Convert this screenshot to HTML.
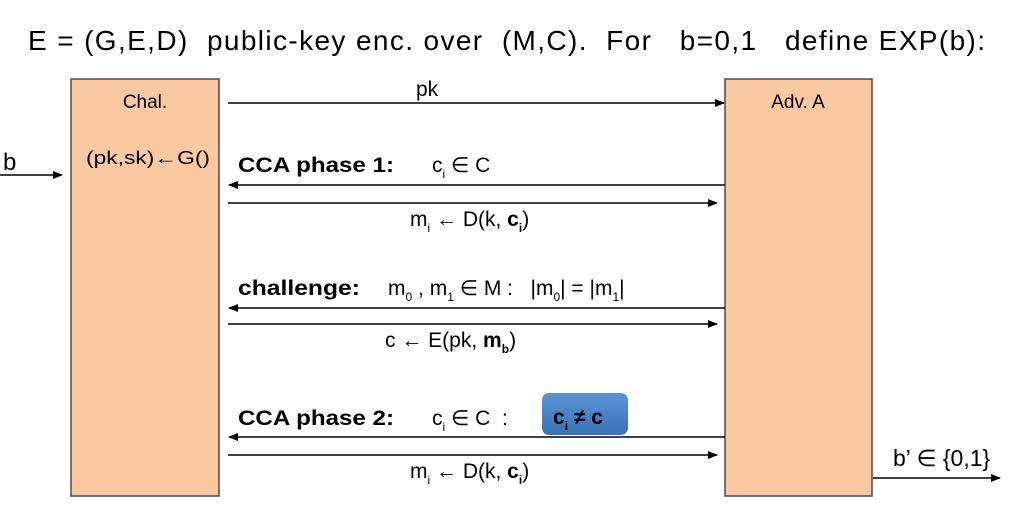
<!DOCTYPE html>
<html><head><style>
body{margin:0;background:#fff;}
svg{display:block;font-family:"Liberation Sans",sans-serif;}
text{white-space:pre;}
</style></head><body>
<svg width="1023" height="509" viewBox="0 0 1023 509">
<defs><marker id="a" markerWidth="10" markerHeight="8" refX="9" refY="4" orient="auto" markerUnits="userSpaceOnUse"><path d="M0,0 L10,4 L0,8z" fill="#000"/></marker>
<linearGradient id="g" x1="0" y1="0" x2="0" y2="1"><stop offset="0" stop-color="#5b93d6"/><stop offset="1" stop-color="#3a72b8"/></linearGradient></defs>
<text x="28" y="50" font-size="28" textLength="957" lengthAdjust="spacing">E = (G,E,D)  public-key enc. over  (M,C).  For   b=0,1   define EXP(b):</text>
<rect x="71" y="79" width="148" height="417" fill="#fac9a1" stroke="#4a4a4a" stroke-width="1.5"/>
<rect x="725" y="79" width="147" height="417" fill="#fac9a1" stroke="#4a4a4a" stroke-width="1.5"/>
<text x="145" y="108" font-size="19" text-anchor="middle">Chal.</text>
<text x="798" y="108" font-size="19" text-anchor="middle">Adv. A</text>
<text x="86" y="164" font-size="18" textLength="124" lengthAdjust="spacingAndGlyphs">(pk,sk)←G()</text>
<text x="3" y="170" font-size="24">b</text>
<g stroke="#000" stroke-width="1.5" fill="none">
<line x1="0" y1="175" x2="62" y2="175" marker-end="url(#a)"/>
<line x1="228" y1="103" x2="724" y2="103" marker-end="url(#a)"/>
<line x1="725" y1="185" x2="229" y2="185" marker-end="url(#a)"/>
<line x1="228" y1="203" x2="717" y2="203" marker-end="url(#a)"/>
<line x1="725" y1="308" x2="229" y2="308" marker-end="url(#a)"/>
<line x1="228" y1="324" x2="717" y2="324" marker-end="url(#a)"/>
<line x1="725" y1="437" x2="229" y2="437" marker-end="url(#a)"/>
<line x1="228" y1="455" x2="717" y2="455" marker-end="url(#a)"/>
<line x1="873" y1="478" x2="1000" y2="478" marker-end="url(#a)"/>
</g>
<text x="416" y="96" font-size="21">pk</text>
<text x="238" y="172" font-size="21" font-weight="bold" textLength="156" lengthAdjust="spacingAndGlyphs">CCA phase 1:</text>
<text x="432" y="172" font-size="21">c<tspan font-size="12" dy="6">i</tspan><tspan dy="-6"> ∈ C</tspan></text>
<text x="410" y="226" font-size="21">m<tspan font-size="12" dy="6">i</tspan><tspan dy="-6"> ← D(k, </tspan><tspan font-weight="bold">c<tspan font-size="12" dy="6">i</tspan></tspan><tspan dy="-6">)</tspan></text>
<text x="238" y="295" font-size="21" font-weight="bold" textLength="122" lengthAdjust="spacingAndGlyphs">challenge:</text>
<text x="388" y="295" font-size="21">m<tspan font-size="12" dy="6">0</tspan><tspan dy="-6"> , m</tspan><tspan font-size="12" dy="6">1</tspan><tspan dy="-6"> ∈ M :   |m</tspan><tspan font-size="12" dy="6">0</tspan><tspan dy="-6">| = |m</tspan><tspan font-size="12" dy="6">1</tspan><tspan dy="-6">|</tspan></text>
<text x="385" y="347" font-size="21">c ← E(pk, <tspan font-weight="bold">m<tspan font-size="12" dy="6">b</tspan></tspan><tspan dy="-6">)</tspan></text>
<text x="238" y="425" font-size="21" font-weight="bold" textLength="156" lengthAdjust="spacingAndGlyphs">CCA phase 2:</text>
<text x="432" y="425" font-size="21">c<tspan font-size="12" dy="6">i</tspan><tspan dy="-6"> ∈ C  :</tspan></text>
<rect x="542" y="393" width="86" height="42" rx="7" fill="url(#g)"/>
<text x="553" y="424" font-size="21" font-weight="bold" fill="#000">c<tspan font-size="12" dy="6">i</tspan><tspan dy="-6"> ≠ c</tspan></text>
<text x="410" y="478" font-size="21">m<tspan font-size="12" dy="6">i</tspan><tspan dy="-6"> ← D(k, </tspan><tspan font-weight="bold">c<tspan font-size="12" dy="6">i</tspan></tspan><tspan dy="-6">)</tspan></text>
<text x="893" y="466" font-size="23">b’ ∈ {0,1}</text>
</svg>
</body></html>
